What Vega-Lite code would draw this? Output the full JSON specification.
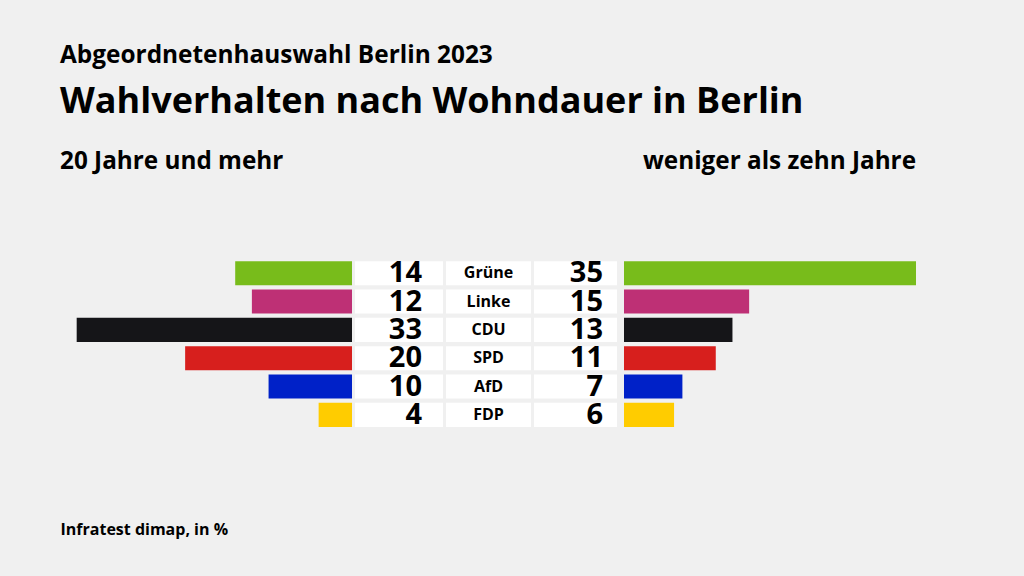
{
  "$schema": "https://vega.github.io/schema/vega-lite/v6.json",
  "background": "#f0f0f0",
  "padding": {"left": 60, "top": 43, "right": 108, "bottom": 60},
  "title": {
    "text": "Abgeordnetenhauswahl Berlin 2023",
    "subtitle": "Wahlverhalten nach Wohndauer in Berlin",
    "anchor": "start",
    "frame": "group",
    "fontSize": 24.4,
    "fontWeight": "bold",
    "color": "#000000",
    "subtitleFontSize": 36,
    "subtitleFontWeight": "bold",
    "subtitleColor": "#000000",
    "subtitlePadding": 16,
    "offset": 29
  },
  "data": {
    "values": [
      {"party": "Grüne", "long": 14, "short": 35},
      {"party": "Linke", "long": 12, "short": 15},
      {"party": "CDU", "long": 33, "short": 13},
      {"party": "SPD", "long": 20, "short": 11},
      {"party": "AfD", "long": 10, "short": 7},
      {"party": "FDP", "long": 4, "short": 6}
    ]
  },
  "spacing": 3,
  "bounds": "flush",
  "hconcat": [
    {
      "width": 292,
      "height": 170,
      "title": {"text": "20 Jahre und mehr", "anchor": "start", "fontSize": 24.3, "fontWeight": "bold", "color": "#000000", "offset": 85},
      "mark": {"type": "bar"},
      "encoding": {
        "y": {"field": "party", "type": "nominal", "sort": null, "axis": null, "scale": {"paddingInner": 0.15, "paddingOuter": 0.075}},
        "x": {
          "field": "long", "type": "quantitative",
          "scale": {"domain": [0, 35], "reverse": true},
          "axis": {"labels": false, "ticks": false, "domain": false, "grid": false, "title": "Infratest dimap, in %", "titleAnchor": "end", "titleAlign": "left", "titleFontSize": 16, "titleFontWeight": "bold", "titleColor": "#000000", "titlePadding": 92}
        },
        "color": {
          "field": "party", "type": "nominal", "legend": null,
          "scale": {"domain": ["Grüne", "Linke", "CDU", "SPD", "AfD", "FDP"], "range": ["#78bc1b", "#be3075", "#151518", "#d71f1d", "#0021c8", "#ffcc00"]}
        }
      }
    },
    {
      "width": 88,
      "height": 170,
      "layer": [
        {
          "mark": {"type": "rect", "color": "#ffffff"},
          "encoding": {
            "y": {"field": "party", "type": "nominal", "sort": null, "axis": null, "scale": {"paddingInner": 0.15, "paddingOuter": 0.075}},
            "x": {"value": 0},
            "x2": {"value": "width"}
          }
        },
        {
          "mark": {"type": "text", "align": "right", "baseline": "middle", "dx": -21, "fontSize": 29, "fontWeight": "bold", "color": "#000000"},
          "encoding": {
            "y": {"field": "party", "type": "nominal", "sort": null, "axis": null},
            "x": {"value": "width"},
            "text": {"field": "long", "type": "quantitative"}
          }
        }
      ]
    },
    {
      "width": 85,
      "height": 170,
      "layer": [
        {
          "mark": {"type": "rect", "color": "#ffffff"},
          "encoding": {
            "y": {"field": "party", "type": "nominal", "sort": null, "axis": null, "scale": {"paddingInner": 0.15, "paddingOuter": 0.075}},
            "x": {"value": 0},
            "x2": {"value": "width"}
          }
        },
        {
          "mark": {"type": "text", "align": "center", "baseline": "middle", "fontSize": 16, "fontWeight": "bold", "color": "#000000"},
          "encoding": {
            "y": {"field": "party", "type": "nominal", "sort": null, "axis": null},
            "x": {"value": 42.5},
            "text": {"field": "party", "type": "nominal"}
          }
        }
      ]
    },
    {
      "width": 87,
      "height": 170,
      "layer": [
        {
          "mark": {"type": "rect", "color": "#ffffff", "x2Offset": -4},
          "encoding": {
            "y": {"field": "party", "type": "nominal", "sort": null, "axis": null, "scale": {"paddingInner": 0.15, "paddingOuter": 0.075}},
            "x": {"value": 0},
            "x2": {"value": "width"}
          }
        },
        {
          "mark": {"type": "text", "align": "right", "baseline": "middle", "dx": -18, "fontSize": 29, "fontWeight": "bold", "color": "#000000"},
          "encoding": {
            "y": {"field": "party", "type": "nominal", "sort": null, "axis": null},
            "x": {"value": "width"},
            "text": {"field": "short", "type": "quantitative"}
          }
        }
      ]
    },
    {
      "width": 292,
      "height": 170,
      "title": {"text": "weniger als zehn Jahre", "anchor": "end", "fontSize": 24.3, "fontWeight": "bold", "color": "#000000", "offset": 85},
      "mark": {"type": "bar"},
      "encoding": {
        "y": {"field": "party", "type": "nominal", "sort": null, "axis": null, "scale": {"paddingInner": 0.15, "paddingOuter": 0.075}},
        "x": {"field": "short", "type": "quantitative", "scale": {"domain": [0, 35]}, "axis": null},
        "color": {
          "field": "party", "type": "nominal", "legend": null,
          "scale": {"domain": ["Grüne", "Linke", "CDU", "SPD", "AfD", "FDP"], "range": ["#78bc1b", "#be3075", "#151518", "#d71f1d", "#0021c8", "#ffcc00"]}
        }
      }
    }
  ],
  "config": {
    "font": "Open Sans",
    "view": {"stroke": null}
  }
}
